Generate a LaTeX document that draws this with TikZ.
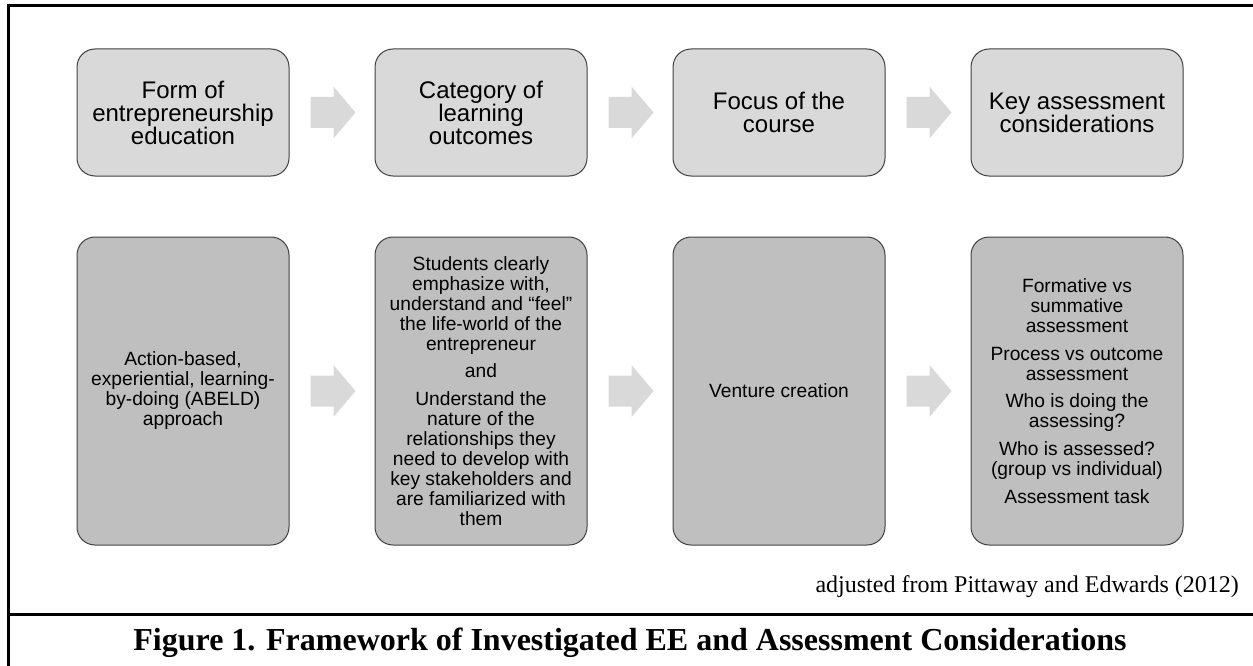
\documentclass[tikz,border=0pt]{standalone}
\usepackage{fontspec}
\setmainfont{Liberation Serif}
\newfontfamily\boxfont[Ligatures=TeX]{Liberation Sans}
\usepackage{tikz}
\usepackage{xcolor}
\usetikzlibrary{positioning, calc}

\definecolor{lightbox}{HTML}{D9D9D9}
\definecolor{darkbox}{HTML}{BFBFBF}
\definecolor{boxline}{HTML}{404040}

\tikzset{
    topbox/.style={draw=boxline, line width=1pt, fill=lightbox, rounded corners=18pt,
        minimum width=212pt, minimum height=127pt, align=center, inner sep=0pt,
        font=\boxfont\fontsize{24}{23}\selectfont},
    lowbox/.style={draw=boxline, line width=1pt, fill=darkbox, rounded corners=18pt,
        minimum width=212pt, minimum height=308pt, align=center, inner sep=0pt,
        font=\boxfont\fontsize{19.2}{20}\selectfont},
    blockarrow/.style={fill=lightbox},
    frameline/.style={line width=3pt, line cap=rect}
}

\begin{document}
\begin{tikzpicture}[x=1pt,y=-1pt]
\useasboundingbox (0,0) rectangle (1253,666);

% frame
\draw[frameline] (8,666) -- (8,6) -- (1253,6);
\draw[frameline] (8,614.5) -- (1253,614.5);

% top row
\node[topbox] (form) at (183,112.5) {Form of\\entrepreneurship\\education};
\node[topbox, right=85pt of form] (category) {Category of\\learning\\outcomes};
\node[topbox, right=85pt of category] (focus) {Focus of the\\course};
\node[topbox, right=85pt of focus] (key) {Key assessment\\considerations};

% bottom row
\node[lowbox, below=60pt of form] (abeld) {Action-based,\\experiential, learning-\\by-doing (ABELD)\\approach};
\node[lowbox, below=60pt of category] (students) {Students clearly\\emphasize with,\\understand and “feel”\\the life-world of the\\entrepreneur\\[7.7pt]
    and\\[7.7pt]
    Understand the\\nature of the\\relationships they\\need to develop with\\key stakeholders and\\are familiarized with\\them};
\node[lowbox, below=60pt of focus] (venture) {Venture creation};
\node[lowbox, below=60pt of key] (assess) {Formative vs\\summative\\assessment\\[7.7pt]
    Process vs outcome\\assessment\\[7.7pt]
    Who is doing the\\assessing?\\[7.7pt]
    Who is assessed?\\(group vs individual)\\[7.7pt]
    Assessment task};

% block arrows between the boxes
\foreach \a/\b in {form/category, category/focus, focus/key, abeld/students, students/venture, venture/assess} {
    \coordinate (m) at ($(\a.east)!0.5!(\b.west)$);
    \fill[blockarrow] ($(m)+(-21.5,-15.5)$) -- ($(m)+(1.5,-15.5)$) -- ($(m)+(1.5,-26)$)
        -- ($(m)+(23.5,0)$) -- ($(m)+(1.5,26)$) -- ($(m)+(1.5,15.5)$)
        -- ($(m)+(-21.5,15.5)$) -- cycle;
}

% source and caption
\node[anchor=base east, inner sep=0pt, font=\fontsize{24}{26}\selectfont] (source) at (1239,592) {adjusted from Pittaway and Edwards (2012)};
\node[anchor=base, inner sep=0pt, font=\bfseries\fontsize{32}{36}\selectfont] (caption) at (630,650) {Figure 1. Framework of Investigated EE and Assessment Considerations};
\end{tikzpicture}
\end{document}
